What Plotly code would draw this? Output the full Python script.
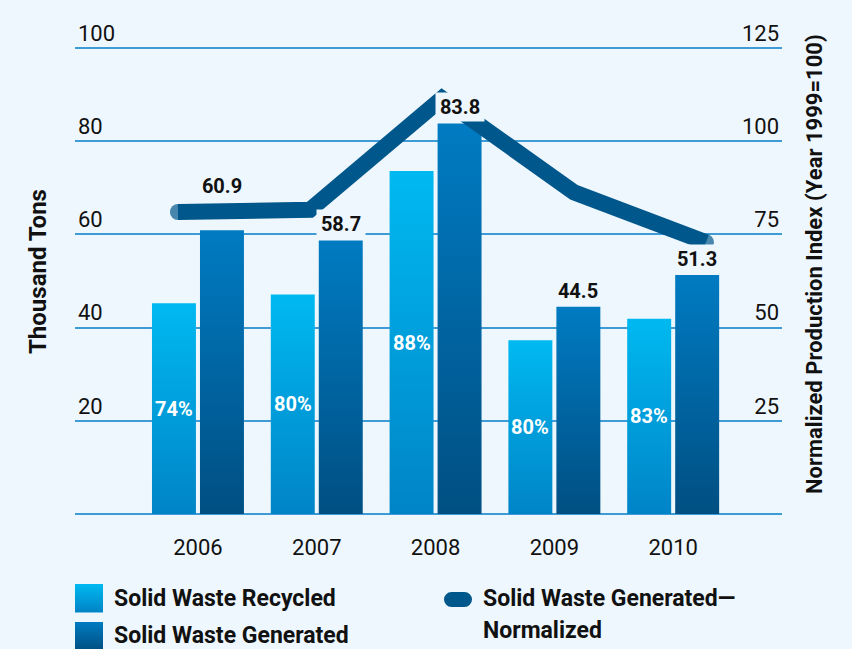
import plotly.graph_objects as go

# data (thousand tons / index, year 1999 = 100)
years = [2006, 2007, 2008, 2009, 2010]
recycled = [45.2, 47.1, 73.6, 37.3, 41.9]
generated = [60.9, 58.7, 83.8, 44.5, 51.3]
recycled_share = [74, 80, 88, 80, 83]
normalized = [81.0, 81.6, 111.5, 86.3, 72.9]
left_ticks = [20, 40, 60, 80, 100]
right_ticks = [25, 50, 75, 100, 125]

W, H = 852, 649
L, R, T, B = 75, 70, 2, 135
PW, PH = W - L - R, H - T - B
PX_PER_UNIT = 4.66          # left-axis pixels per thousand tons
Y_TOP = PH / PX_PER_UNIT
Y2_TOP = Y_TOP * 1.25       # right axis: 125 lines up with 100

BG = "#eef7fd"
GRID = "#3f9bd6"
REC = ("#0084c7", "#00b9f0")   # bottom, top
GEN = ("#004f82", "#007bc2")
LINE = "#00578b"
FONT = "Roboto"
INK = "#111111"

BAR_W, HALF_GAP = 0.37, 0.017


def px_x(px):
    return (px - L) / PW


def px_y(py):
    return (H - B - py) / PH


def mix(c1, c2, t):
    a = [int(c1[k:k + 2], 16) for k in (1, 3, 5)]
    b = [int(c2[k:k + 2], 16) for k in (1, 3, 5)]
    return "#" + "".join(f"{round(p + (q - p) * t):02x}" for p, q in zip(a, b))


fig = go.Figure()


def add_bar(i, v, left, colors):
    x0 = i - HALF_GAP - BAR_W if left else i + HALF_GAP
    x1 = x0 + BAR_W
    fig.add_trace(go.Scatter(
        x=[x0, x0, x1, x1, x0], y=[0, v, v, 0, 0],
        mode="lines", fill="toself", line=dict(width=0),
        fillgradient=dict(type="vertical",
                          colorscale=[[0, colors[0]], [1, colors[1]]]),
        hoverinfo="skip", showlegend=False))


for i in range(len(years)):
    add_bar(i, recycled[i], True, REC)
    add_bar(i, generated[i], False, GEN)

# normalized production line (right axis), round ends via end markers
fig.add_trace(go.Scatter(
    x=years, y=normalized, xaxis="x2", yaxis="y2",
    mode="lines+markers",
    line=dict(color=LINE, width=16),
    marker=dict(size=[16, 0, 0, 0, 16], color=LINE, line=dict(width=0)),
    hoverinfo="skip", showlegend=False))

annotations = []
for i in range(len(years)):
    # generated value above the bar
    annotations.append(dict(
        x=i + HALF_GAP + BAR_W / 2, y=generated[i], xref="x", yref="y",
        text=f"{generated[i]:.1f}", showarrow=False,
        yanchor="bottom", yshift=29 if i == 0 else 1,
        width=46, height=26, bgcolor=BG,
        font=dict(family=FONT, size=20, color=INK, weight="bold")))
    # recycled share inside the bar
    annotations.append(dict(
        x=i - HALF_GAP - BAR_W / 2, y=recycled[i] / 2, xref="x", yref="y",
        text=f"{recycled_share[i]}%", showarrow=False,
        font=dict(family=FONT, size=20, color="white", weight="bold")))

# axis titles
annotations.append(dict(
    x=px_x(38), y=px_y(272), xref="paper", yref="paper", text="Thousand Tons",
    textangle=-90, showarrow=False, xanchor="center", yanchor="middle",
    font=dict(family=FONT, size=24, color=INK, weight="bold")))
annotations.append(dict(
    x=px_x(814), y=px_y(264), xref="paper", yref="paper",
    text="Normalized Production Index (Year 1999=100)",
    textangle=-90, showarrow=False, xanchor="center", yanchor="middle",
    font=dict(family=FONT, size=22, color=INK, weight="bold")))

# legend text
legend_font = dict(family=FONT, size=23, color=INK, weight="bold")
for label, lx, ly in [("Solid Waste Recycled", 112, 598),
                      ("Solid Waste Generated", 112, 635),
                      ("Solid Waste Generated\u2014", 481, 598),
                      ("Normalized", 481, 630)]:
    annotations.append(dict(
        x=px_x(lx), y=px_y(ly), xref="paper", yref="paper", text=label,
        xanchor="left", yanchor="middle", showarrow=False, font=legend_font))

# legend swatches (gradient squares + rounded pill)
shapes = []


def swatch(x0, y0, x1, y1, colors, n=14):
    step = (y1 - y0) / n
    for k in range(n):
        shapes.append(dict(
            type="rect", xref="paper", yref="paper", layer="above",
            x0=px_x(x0), x1=px_x(x1),
            y0=px_y(y0 + k * step), y1=px_y(y0 + (k + 1) * step + 0.5),
            fillcolor=mix(colors[1], colors[0], (k + 0.5) / n),
            line=dict(width=0)))


swatch(75, 584, 103, 612, REC)
swatch(75, 622, 103, 650, GEN)
shapes.append(dict(type="rect", xref="paper", yref="paper", layer="above",
                   x0=px_x(451.5), x1=px_x(464.5), y0=px_y(592), y1=px_y(607),
                   fillcolor=LINE, line=dict(width=0)))
for cx in (451.5, 464.5):
    shapes.append(dict(type="circle", xref="paper", yref="paper", layer="above",
                       x0=px_x(cx - 7.5), x1=px_x(cx + 7.5),
                       y0=px_y(592), y1=px_y(607),
                       fillcolor=LINE, line=dict(width=0)))

tick_font = dict(family=FONT, size=22, color=INK)

fig.update_layout(
    width=W, height=H,
    margin=dict(l=L, r=R, t=T, b=B),
    paper_bgcolor=BG, plot_bgcolor=BG,
    showlegend=False,
    xaxis=dict(range=[-1.035, 4.916], tickvals=list(range(len(years))),
               ticktext=[str(y) for y in years], showgrid=False,
               zeroline=False, ticks="", tickfont=tick_font,
               ticklabelstandoff=18, fixedrange=True),
    xaxis2=dict(overlaying="x", range=[2005.22, 2010.576], visible=False),
    yaxis=dict(range=[0, Y_TOP], tickvals=left_ticks, showgrid=True,
               gridcolor=GRID, gridwidth=2, zeroline=True,
               zerolinecolor=GRID, zerolinewidth=2, ticks="",
               ticklabelposition="inside", ticklabelshift=-15,
               tickfont=tick_font),
    yaxis2=dict(overlaying="y", side="right", range=[0, Y2_TOP],
                tickvals=right_ticks, showgrid=False, zeroline=False,
                ticks="", ticklabelposition="inside", ticklabelshift=-15,
                tickfont=tick_font),
    annotations=annotations,
    shapes=shapes,
)

# drop the browser's default page margin so the figure fills the window
fig.write_html("out.html", config={"displayModeBar": False},
               post_script="document.body.style.margin='0';"
                           "document.body.style.overflow='hidden';")
